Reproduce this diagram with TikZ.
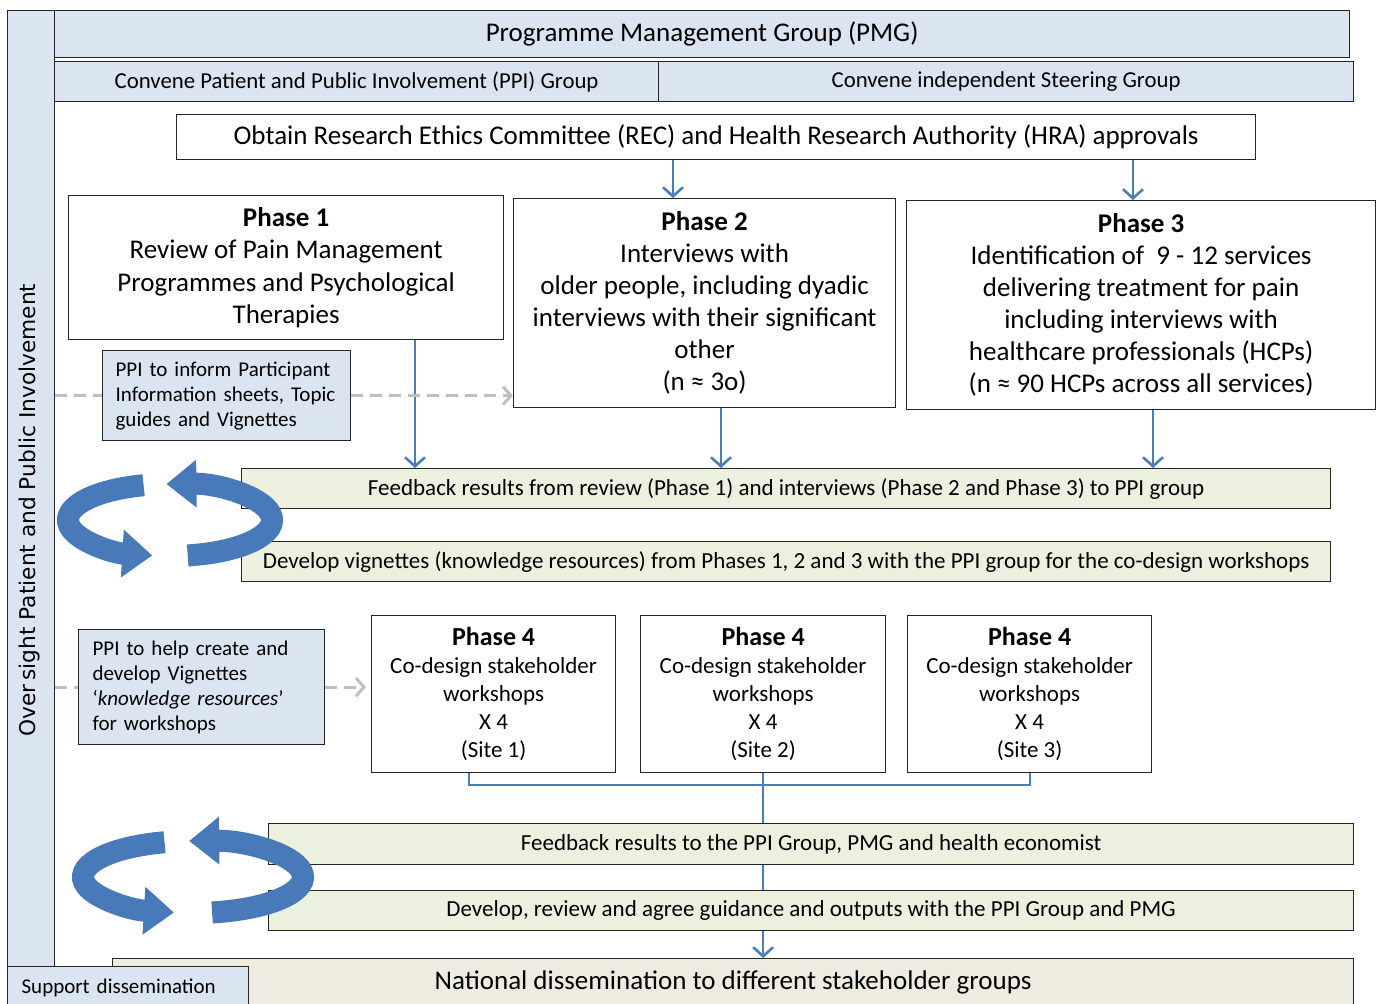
\documentclass[tikz,border=0pt]{standalone}
\usepackage{fontspec}
\setmainfont{Carlito}
\newfontfamily\vfont{DejaVu Sans}
\usetikzlibrary{arrows.meta}
\definecolor{paleblue}{RGB}{219,229,241}
\definecolor{palegreen}{RGB}{235,241,222}
\definecolor{palesand}{RGB}{238,236,225}
\definecolor{flowblue}{RGB}{74,126,187}
\definecolor{ringblue}{RGB}{72,121,184}
\definecolor{dashgrey}{RGB}{191,191,191}

\begin{document}
\begin{tikzpicture}[x=1pt, y=-1pt]
    % Define styles
    \tikzstyle{box} = [draw=black!85, line width=1.2pt, rectangle, anchor=north west, align=center, inner sep=0pt]
    \tikzstyle{group} = [box, fill=paleblue]
    \tikzstyle{phase} = [box, fill=white, font=\fontsize{27}{32.5}\selectfont]
    \tikzstyle{workshop} = [box, fill=white, font=\fontsize{23}{28}\selectfont]
    \tikzstyle{ppi} = [box, fill=paleblue, align=left, inner xsep=13pt, font=\fontsize{21}{25}\selectfont]
    \tikzstyle{result} = [box, fill=palegreen, font=\fontsize{23}{26}\selectfont]
    \tikzstyle{flow} = [draw=flowblue, line width=2.6pt, -{Straight Barb[length=9pt,width=20pt]}]
    \tikzstyle{link} = [draw=flowblue, line width=2.6pt]
    \tikzstyle{ppiflow} = [draw=dashgrey, line width=3pt, dash pattern=on 12pt off 7pt, -{Straight Barb[length=8pt,width=18pt]}]
    \tikzstyle{ring} = [draw=ringblue, line width=22pt, -{Triangle[length=30pt,width=46pt]}]

    \useasboundingbox (0,0) rectangle (1379,1004);
    \clip (0,0) rectangle (1379,1004);

    % Nodes
    \node[group, minimum width=47pt, minimum height=956pt] (strip) at (7,10) {};
    \node[rotate=90, font=\vfont\fontsize{21.7}{26}\selectfont] (oversight) at (30,510) {Over\,sight Patient and Public Involvement};

    \node[group, minimum width=1295pt, minimum height=47pt, font=\fontsize{27}{30}\selectfont] (pmg) at (54,10) {Programme Management Group (PMG)};
    \node[group, minimum width=604pt, minimum height=40pt, font=\fontsize{22.8}{26}\selectfont] (ppigroup) at (54,61) {Convene Patient and Public Involvement (PPI) Group};
    \node[group, minimum width=695pt, minimum height=40pt, font=\fontsize{22.8}{26}\selectfont] (steering) at (658,61) {Convene independent Steering Group};
    \node[box, fill=white, minimum width=1079pt, minimum height=45pt, font=\fontsize{27}{30}\selectfont] (rec) at (176,114) {Obtain Research Ethics Committee (REC) and Health Research Authority (HRA) approvals};

    \node[phase, minimum width=435pt, minimum height=144pt] (phase1) at (68,195) {\textbf{Phase 1}\\Review of Pain Management\\Programmes and Psychological\\Therapies};
    \node[phase, font=\fontsize{27}{32}\selectfont, minimum width=382pt, minimum height=209pt] (phase2) at (513,198) {\textbf{Phase 2}\\Interviews with\\older people, including dyadic\\interviews with their significant\\other\\(n ≈ 3o)};
    \node[phase, font=\fontsize{27}{32}\selectfont, minimum width=469pt, minimum height=209pt] (phase3) at (906,200) {\textbf{Phase 3}\\Identification of\ \ 9 - 12 services\\delivering treatment for pain\\including interviews with\\healthcare professionals (HCPs)\\(n ≈ 90 HCPs across all services)};

    \node[ppi, text width=222pt, minimum height=90pt] (ppiinform) at (102,350) {PPI to inform Participant\\Information sheets, Topic\\guides and Vignettes};

    \node[result, minimum width=1089pt, minimum height=40pt] (feedback1) at (241,468) {Feedback results from review (Phase 1) and interviews (Phase 2 and Phase 3) to PPI group};
    \node[result, minimum width=1089pt, minimum height=40pt] (vignettes) at (241,541) {Develop vignettes (knowledge resources) from Phases 1, 2 and 3 with the PPI group for the co-design workshops};

    \node[ppi, inner xsep=14pt, text width=218pt, minimum height=115pt] (ppihelp) at (78,629) {PPI to help create and\\develop Vignettes\\‘\textit{knowledge resources}’\\for workshops};

    \node[workshop, minimum width=244pt, minimum height=157pt] (site1) at (371,615) {\textbf{\fontsize{26}{29}\selectfont Phase 4}\\Co-design stakeholder\\workshops\\X 4\\(Site 1)};
    \node[workshop, minimum width=245pt, minimum height=157pt] (site2) at (640,615) {\textbf{\fontsize{26}{29}\selectfont Phase 4}\\Co-design stakeholder\\workshops\\X 4\\(Site 2)};
    \node[workshop, minimum width=244pt, minimum height=157pt] (site3) at (907,615) {\textbf{\fontsize{26}{29}\selectfont Phase 4}\\Co-design stakeholder\\workshops\\X 4\\(Site 3)};

    \node[result, minimum width=1085pt, minimum height=41pt] (feedback2) at (268,823) {Feedback results to the PPI Group, PMG and health economist};
    \node[result, minimum width=1085pt, minimum height=40pt] (guidance) at (268,890) {Develop, review and agree guidance and outputs with the PPI Group and PMG};
    \node[box, fill=palesand, minimum width=1241pt, minimum height=48pt, font=\fontsize{27}{30}\selectfont] (national) at (112,958) {National dissemination to different stakeholder groups};
    \node[group, align=left, inner xsep=14pt, text width=213pt, minimum height=42pt, font=\fontsize{21}{24}\selectfont] (support) at (7,966) {Support dissemination};

    % Flow arrows
    \draw[flow] (rec.south -| 673,0) -- (phase2.north -| 673,0);
    \draw[flow] (rec.south -| 1133,0) -- (phase3.north -| 1133,0);
    \draw[flow] (phase1.south -| 415,0) -- (feedback1.north -| 415,0);
    \draw[flow] (phase2.south -| 721,0) -- (feedback1.north -| 721,0);
    \draw[flow] (phase3.south -| 1153,0) -- (feedback1.north -| 1153,0);

    \draw[link] (site1.south -| 469,0) |- (site2.south |- 0,785) -| (site3.south -| 1030,0);
    \draw[link] (site2.south) -- (feedback2.north -| site2.south);
    \draw[link] (feedback2.south -| site2.south) -- (guidance.north -| site2.south);
    \draw[flow] (guidance.south -| site2.south) -- (national.north -| site2.south);

    % PPI input
    \draw[ppiflow, -] (strip.east |- ppiinform.west) -- (ppiinform.west);
    \draw[ppiflow] (ppiinform.east) -- (phase2.west |- ppiinform.east);
    \draw[ppiflow, -] (strip.east |- ppihelp.west) -- (ppihelp.west);
    \draw[ppiflow, shorten >=5pt] (ppihelp.east) -- (site1.west |- ppihelp.east);

    % Cycles
    \draw[ring] (170,520) ++(255:102 and 36) arc[start angle=255, end angle=100, x radius=102, y radius=36];
    \draw[ring] (170,520) ++(80:102 and 36) arc[start angle=80, end angle=-92, x radius=102, y radius=36];
    \draw[ring] (193,877) ++(255:110 and 36) arc[start angle=255, end angle=100, x radius=110, y radius=36];
    \draw[ring] (193,877) ++(80:110 and 36) arc[start angle=80, end angle=-92, x radius=110, y radius=36];
\end{tikzpicture}
\end{document}
